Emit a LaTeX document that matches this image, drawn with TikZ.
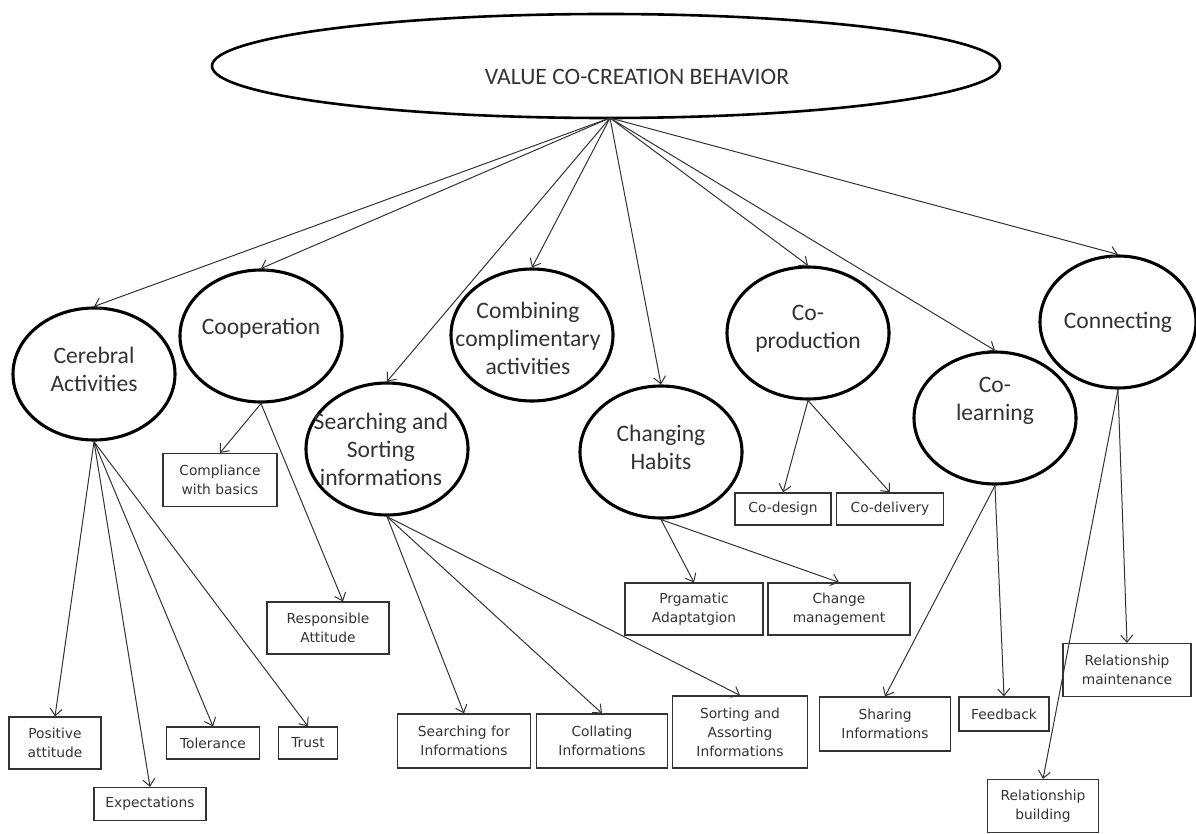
\documentclass[tikz,border=0pt]{standalone}
\usepackage{fontspec}
\setmainfont{Carlito}
\newfontfamily\boxfont{DejaVu Sans}
\usetikzlibrary{arrows.meta,shapes.geometric}
\definecolor{inkgray}{HTML}{333333}
\begin{document}
\begin{tikzpicture}[x=1pt, y=-1pt,
    oval/.style={ellipse, draw, line width=3.1pt, inner sep=0pt,
      minimum width=162pt, minimum height=132pt},
    ovaltext/.style={align=center, text=inkgray, inner sep=0pt,
      font=\fontsize{23.6}{28}\selectfont},
    leaf/.style={rectangle, draw=inkgray, line width=1.2pt, inner sep=1pt,
      align=center, text=inkgray, font=\boxfont\fontsize{13.8}{19}\selectfont}]
  \useasboundingbox (0,0) rectangle (1196,834);

  % root
  \node [oval, line width=2.6pt, minimum width=788pt, minimum height=104pt]
  (vccb) at (606,66) {};
  \node [ovaltext] (vccb-t) at ([xshift=31pt,yshift=-11pt]vccb.center)
  {VALUE CO-CREATION BEHAVIOR};
  \coordinate (hub) at (610,118);

  % behaviours
  \begin{scope}[every node/.style={oval}]
    \node (cer) at (94,374) {}; \node (coop) at (261,336) {};
    \node (search) at (387,449) {}; \node (comb) at (532,335) {};
    \node (habits) at (661,452) {}; \node (coprod) at (808,333) {};
    \node (colearn) at (995,418) {};
    \node [minimum width=156pt] (connect) at (1118,322) {};
  \end{scope}
  \begin{scope}[every node/.style={ovaltext}]
    \node (cer-t) at ([yshift=5pt]cer.center) {Cerebral\\Activities};
    \node (coop-t) at ([yshift=8pt]coop.center) {Cooperation};
    \node (search-t) at ([xshift=-6pt]search.center)
    {Searching and\\Sorting\\informations};
    \node (comb-t) at ([xshift=-4pt,yshift=-3pt]comb.center)
    {Combining\\complimentary\\activities};
    \node (habits-t) at ([yshift=5pt]habits.center) {Changing\\Habits};
    \node (coprod-t) at ([yshift=4pt]coprod.center) {Co-\\production};
    \node (colearn-t) at ([yshift=17pt]colearn.center) {Co-\\learning};
    \node (connect-t) at (connect.center) {Connecting};
  \end{scope}

  % activities
  \begin{scope}[every node/.style={leaf}]
    \node [minimum width=92pt, minimum height=52pt] (posatt) at (55,743)
    {Positive\\attitude}; \node [minimum width=112pt, minimum
    height=33pt] (expect) at (150,804) {Expectations}; \node [minimum
    width=93pt, minimum height=32pt] (toler) at (213,743) {Tolerance};
    \node [minimum width=59pt, minimum height=32pt] (trust) at (308,743)
    {Trust}; \node [minimum width=114pt, minimum height=53pt] (comply)
    at (220,480) {Compliance\\with basics}; \node [minimum width=122pt,
    minimum height=52pt] (respatt) at (328,628) {Responsible\\Attitude};
    \node [minimum width=133pt, minimum height=54pt] (srchinfo) at
    (464,741) {Searching for\\Informations}; \node [minimum width=131pt,
    minimum height=54pt] (collate) at (602,741) {Collating\\Informations};
    \node [minimum width=135pt, minimum height=72pt] (sortinfo) at
    (740,732) {Sorting and\\Assorting\\Informations}; \node [minimum
    width=138pt, minimum height=52pt] (pragad) at (694,609)
    {Prgamatic\\Adaptatgion}; \node [minimum width=142pt, minimum
    height=52pt] (chgmgmt) at (839,609) {Change\\management}; \node
    [minimum width=96pt, minimum height=32pt] (codesign) at (783,509)
    {Co-design}; \node [minimum width=107pt, minimum height=32pt]
    (codeliv) at (890,509) {Co-delivery}; \node [minimum width=131pt,
    minimum height=54pt] (shareinfo) at (885,724) {Sharing\\Informations};
    \node [minimum width=90pt, minimum height=34pt] (feedback) at
    (1004,714) {Feedback}; \node [minimum width=128pt, minimum
    height=53pt] (relmaint) at (1127,670) {Relationship\\maintenance};
    \node [minimum width=111pt, minimum height=53pt] (relbuild) at
    (1043,806) {Relationship\\building};
  \end{scope}

  \begin{scope}[-{Straight Barb[length=7pt,width=12pt]}, color=inkgray,
    line width=1pt]
    \foreach \b in {cer,coop,search,comb,habits,coprod,colearn,connect}
    \draw (hub) -- (\b.north);
    \foreach \a in {posatt,expect,toler,trust} \draw (cer.south) --
    (\a.north);
    \draw (coop.south) -- (comply.north); \draw (coop.south) --
    ([xshift=15pt]respatt.north);
    \foreach \a in {srchinfo,collate,sortinfo} \draw (search.south) --
    (\a.north);
    \draw (habits.south) -- (pragad.north); \draw (habits.south) --
    (chgmgmt.north); \draw (coprod.south) -- (codesign.north); \draw
    (coprod.south) -- (codeliv.north); \draw (colearn.south) --
    (shareinfo.north); \draw (colearn.south) -- (feedback.north); \draw
    (connect.south) -- (relmaint.north); \draw (connect.south) --
    (relbuild.north);
  \end{scope}

\end{tikzpicture}
\end{document}
